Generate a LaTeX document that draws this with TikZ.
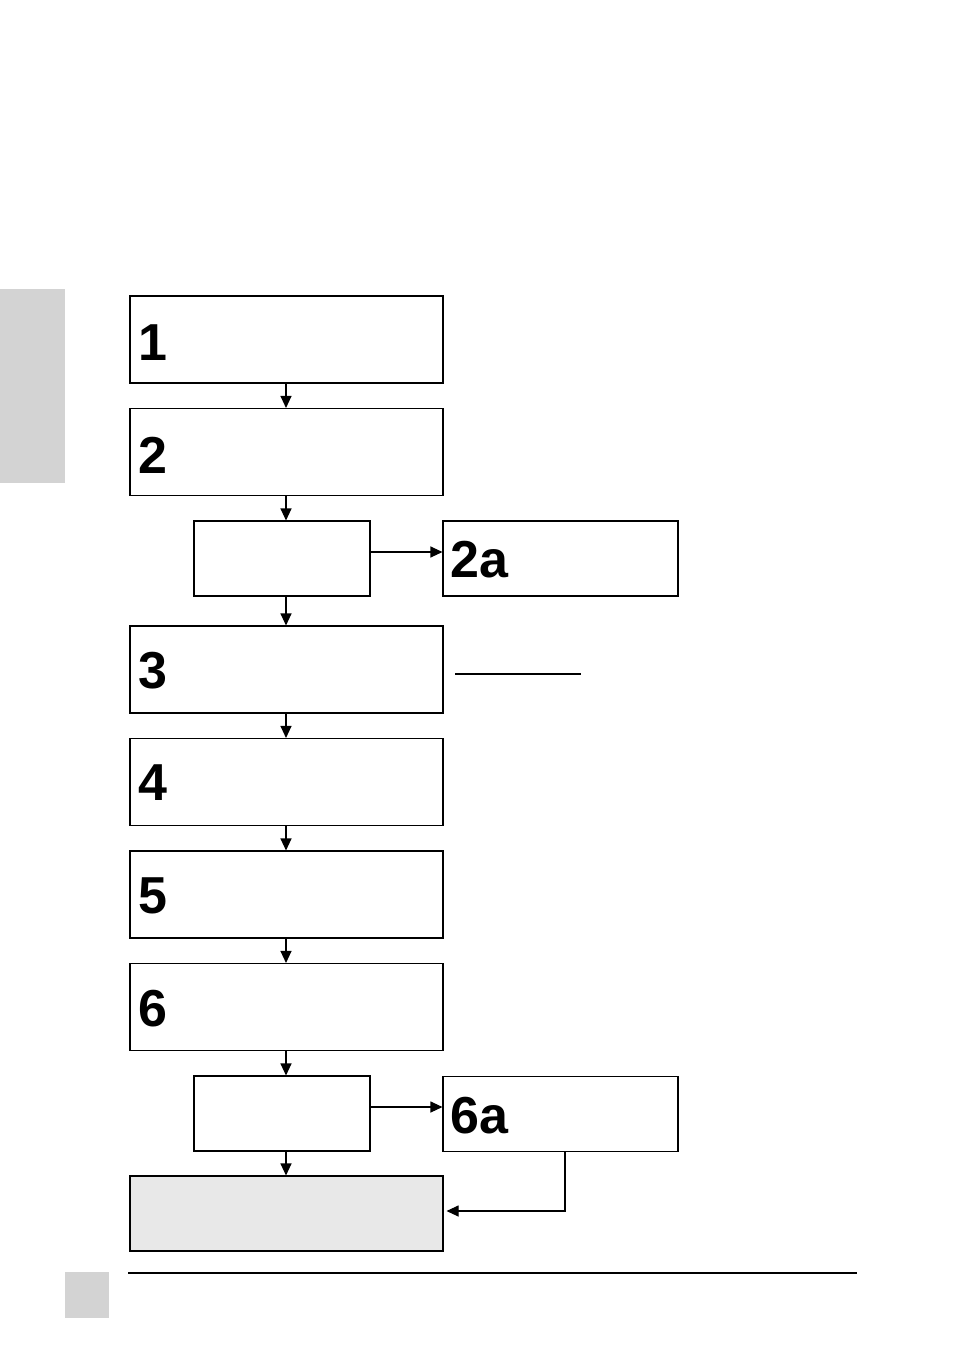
\documentclass[tikz,border=0pt]{standalone}
\usepackage{fontspec}
\setmainfont{Liberation Sans}
\usetikzlibrary{shapes,arrows.meta,positioning}

\definecolor{tabgray}{HTML}{D3D3D3}
\definecolor{endgray}{HTML}{E8E8E8}

\begin{document}
\begin{tikzpicture}[x=1pt,y=-1pt,
    box/.style={draw, line width=1.1pt, inner sep=0pt},
    wide/.style={box, minimum width=313pt, minimum height=87pt},
    small/.style={box, minimum width=176pt, minimum height=75pt},
    side/.style={box, minimum width=235pt, minimum height=75pt},
    num/.style={anchor=base west, inner sep=0pt, font=\fontsize{52}{52}\selectfont\bfseries},
    flow/.style={line width=1.1pt, -{Triangle[length=12pt,width=11pt]}}]
    \useasboundingbox (0,0) rectangle (954,1351);

    % seitliche Markierungen
    \fill[tabgray] (0,289) rectangle (65,483);
    \fill[tabgray] (65,1272) rectangle (109,1318);
    \draw[line width=1.1pt] (128,1273) -- (857,1273);

    % Hauptkette
    \node[wide] (s1) at (286.5,339.5) {};
    \node[num] at (138,360) {1};
    \node[wide] (s2) at (286.5,452) {};
    \node[num] at (138,473) {2};
    \node[small] (q1) at (282,558.5) {};
    \node[side] (s2a) at (560.5,558.5) {};
    \node[num] at (450,577) {2a};
    \node[wide] (s3) at (286.5,669.5) {};
    \node[num] at (138,688) {3};
    \draw[line width=1.1pt] (455,674) -- (581,674);
    \node[wide] (s4) at (286.5,782) {};
    \node[num] at (138,800) {4};
    \node[wide] (s5) at (286.5,894.5) {};
    \node[num] at (138,913) {5};
    \node[wide] (s6) at (286.5,1007) {};
    \node[num] at (138,1026) {6};
    \node[small] (q2) at (282,1113.5) {};
    \node[side] (s6a) at (560.5,1114) {};
    \node[num] at (450,1133) {6a};
    \node[wide, fill=endgray, minimum height=75pt] (end) at (286.5,1213.5) {};

    % Pfeile
    \draw[flow] (s1.south -| 286,0) -- (s2.north -| 286,0);
    \draw[flow] (s2.south -| 286,0) -- (q1.north -| 286,0);
    \draw[flow] (q1.east |- 0,552) -- (s2a.west |- 0,552);
    \draw[flow] (q1.south -| 286,0) -- (s3.north -| 286,0);
    \draw[flow] (s3.south -| 286,0) -- (s4.north -| 286,0);
    \draw[flow] (s4.south -| 286,0) -- (s5.north -| 286,0);
    \draw[flow] (s5.south -| 286,0) -- (s6.north -| 286,0);
    \draw[flow] (s6.south -| 286,0) -- (q2.north -| 286,0);
    \draw[flow] (q2.east |- 0,1107) -- (s6a.west |- 0,1107);
    \draw[flow] (q2.south -| 286,0) -- (end.north -| 286,0);
    \draw[flow] (s6a.south -| 565,0) |- ([xshift=3pt]end.east |- 0,1211);
\end{tikzpicture}
\end{document}
